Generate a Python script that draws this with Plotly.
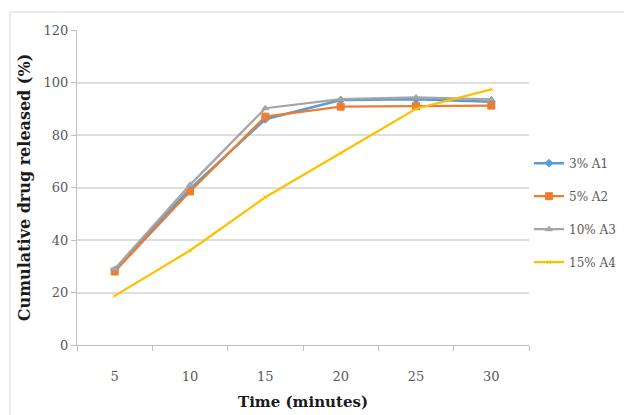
import plotly.graph_objects as go

time_min = [5, 10, 15, 20, 25, 30]
a1 = [28.5, 59.5, 86, 93.3, 93.6, 92.7]
a2 = [28, 58.5, 87, 90.8, 91, 91.2]
a3 = [29, 61, 90.2, 93.7, 94.3, 93.6]
a4 = [18.7, 36, 56.3, 73, 90, 97.4]
names = ["3% A1", "5% A2", "10% A3", "15% A4"]
y_ticks = [0, 20, 40, 60, 80, 100, 120]

serif = "DejaVu Serif"
series = [
    (a1, names[0], "#5b9bd5", "diamond", 6, 2.5),
    (a2, names[1], "#ed7d31", "square", 7, 2.25),
    (a3, names[2], "#a5a5a5", "triangle-up", 6, 2.25),
    (a4, names[3], "#ffc000", "x-thin-open", 4, 2.25),
]

fig = go.Figure()
for ys, nm, col, sym, sz, w in series:
    fig.add_trace(go.Scatter(
        x=time_min, y=ys, name=nm, mode="lines+markers",
        line=dict(color=col, width=w),
        marker=dict(symbol=sym, size=sz, color=col, line=dict(color=col, width=1)),
        legendgroup=nm,
    ))

fig.update_layout(
    width=624, height=415,
    margin=dict(l=77, r=95, t=30, b=70, autoexpand=False),
    paper_bgcolor="white", plot_bgcolor="white",
    font=dict(family=serif, size=12, color="#595959"),
    showlegend=True,
    legend=dict(x=1.0, xanchor="left", y=0.42, yanchor="middle",
                font=dict(family=serif, size=12, color="#595959"),
                itemwidth=30, tracegroupgap=14, bgcolor="rgba(0,0,0,0)"),
    xaxis=dict(
        range=[2.5, 32.5], tickvals=time_min, ticktext=[str(t) for t in time_min],
        ticks="", showgrid=False, zeroline=False,
        tickfont=dict(family=serif, size=13, color="#595959"),
        showline=True, linecolor="#bfbfbf", linewidth=1,
        minor=dict(tickvals=[2.5, 7.5, 12.5, 17.5, 22.5, 27.5, 32.5], ticks="outside",
                   ticklen=5, tickcolor="#bfbfbf", showgrid=False),
        ticklabelstandoff=19,
        title=dict(text="<b>Time (minutes)</b>", font=dict(family=serif, size=15, color="#1a1a1a"),
                   standoff=13),
    ),
    yaxis=dict(
        range=[0, 120], tickvals=y_ticks, ticks="outside", ticklen=5, tickcolor="#bfbfbf",
        tickfont=dict(family=serif, size=13, color="#595959"),
        showgrid=True, gridcolor="#dedede", gridwidth=2, zeroline=False,
        showline=True, linecolor="#bfbfbf", linewidth=1,
        title=dict(text="<b>Cumulative drug released (%)</b>",
                   font=dict(family=serif, size=16, color="#1a1a1a"), standoff=8),
    ),
    shapes=[dict(type="rect", xref="paper", yref="paper",
                 x0=-0.148, x1=1.5, y0=-0.5, y1=1.057,
                 line=dict(color="#d9d9d9", width=1), fillcolor="rgba(0,0,0,0)", layer="below")],
)

fig.write_html("out.html")
